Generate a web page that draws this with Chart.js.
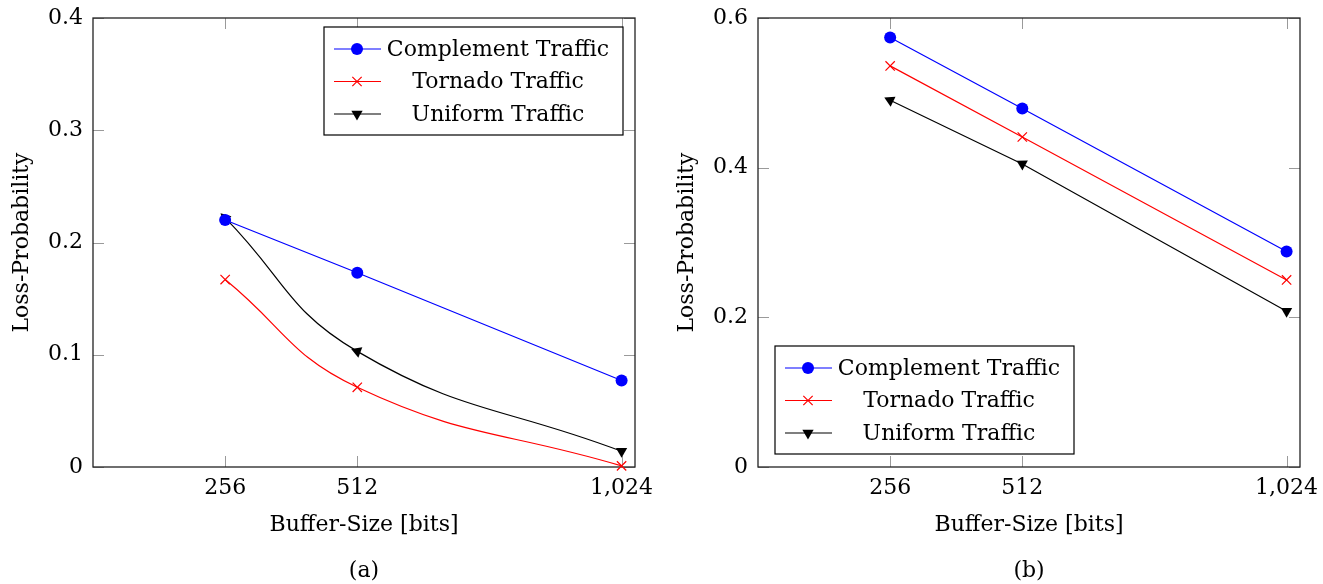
<!DOCTYPE html>
<html>
<head>
<meta charset="utf-8">
<script src="https://cdn.jsdelivr.net/npm/chart.js@4"></script>
<style>
  body { margin: 0; background: #fff; width: 1323px; height: 584px; position: relative; overflow: hidden; }
  .panel { position: absolute; top: 0; width: 658px; height: 584px; }
  .caption { position: absolute; top: 557px; width: 100px; text-align: center; font: 22px "DejaVu Serif"; line-height: 26px; color: #000; }
</style>
</head>
<body>
<div class="panel" style="left:0"><canvas id="chartA" width="658" height="584"></canvas></div>
<div class="panel" style="left:665px"><canvas id="chartB" width="658" height="584"></canvas></div>
<div class="caption" style="left:314px">(a)</div>
<div class="caption" style="left:979px">(b)</div>
<script>
// Data
var bufferSizes = [256, 512, 1024];
var xTickLabels = ['256', '512', '1,024'];

var complementA = [0.220, 0.173, 0.077];
var tornadoA    = [0.167, 0.071, 0.001];
var uniformA    = [0.222, 0.103, 0.014];
var yTicksA     = [0, 0.1, 0.2, 0.3, 0.4];

var complementB = [0.574, 0.479, 0.288];
var tornadoB    = [0.536, 0.441, 0.250];
var uniformB    = [0.490, 0.405, 0.208];
var yTicksB     = [0, 0.2, 0.4, 0.6];

var seriesNames = ['Complement Traffic', 'Tornado Traffic', 'Uniform Traffic'];

Chart.defaults.font.family = '"DejaVu Serif", serif';
Chart.defaults.font.size = 22;
Chart.defaults.color = '#000';

function toPoints(values) {
    return bufferSizes.map(function (b, i) { return {x: b, y: values[i]}; });
}

// triangle markers follow the line direction, last one points down
function triangleRotation(c) {
    if (c.type !== 'data') return 0;
    var data = c.dataset.data, i = c.dataIndex, ch = c.chart;
    if (i === data.length - 1) return 180;
    var dx = ch.scales.x.getPixelForValue(data[i].x) - ch.scales.x.getPixelForValue(data[i + 1].x);
    var dy = ch.scales.y.getPixelForValue(data[i].y) - ch.scales.y.getPixelForValue(data[i + 1].y);
    return Math.atan2(dx, -dy) * 180 / Math.PI;
}

function drawMarker(ctx, style, x, y, color, r, rot) {
    ctx.save();
    ctx.translate(x, y);
    ctx.rotate(rot * Math.PI / 180);
    ctx.fillStyle = color;
    ctx.strokeStyle = color;
    ctx.beginPath();
    if (style === 'circle') {
        ctx.arc(0, 0, r, 0, 2 * Math.PI);
        ctx.fill();
    } else if (style === 'crossRot') {
        var d = r * Math.SQRT1_2;
        ctx.lineWidth = 1.2;
        ctx.moveTo(-d, -d); ctx.lineTo(d, d);
        ctx.moveTo(-d, d); ctx.lineTo(d, -d);
        ctx.stroke();
    } else {
        for (var k = 0; k < 3; k++) {
            var a = k * 2 * Math.PI / 3;
            if (k === 0) ctx.moveTo(Math.sin(a) * r, -Math.cos(a) * r);
            else ctx.lineTo(Math.sin(a) * r, -Math.cos(a) * r);
        }
        ctx.closePath();
        ctx.fill();
    }
    ctx.restore();
}

// pgfplots-like frame with inside ticks on all four sides
var framePlugin = {
    id: 'frame',
    beforeDatasetsDraw: function (chart) {
        var ctx = chart.ctx, a = chart.chartArea, x = chart.scales.x, y = chart.scales.y;
        var len = 11;
        ctx.save();
        ctx.strokeStyle = '#9a9a9a';
        ctx.lineWidth = 1;
        ctx.beginPath();
        x.ticks.forEach(function (t) {
            var px = Math.round(x.getPixelForValue(t.value)) + 0.5;
            ctx.moveTo(px, a.bottom); ctx.lineTo(px, a.bottom - len);
            ctx.moveTo(px, a.top); ctx.lineTo(px, a.top + len);
        });
        y.ticks.forEach(function (t) {
            var py = Math.round(y.getPixelForValue(t.value)) + 0.5;
            ctx.moveTo(a.left, py); ctx.lineTo(a.left + len, py);
            ctx.moveTo(a.right, py); ctx.lineTo(a.right - len, py);
        });
        ctx.stroke();
        ctx.strokeStyle = '#222';
        ctx.lineWidth = 1.3;
        ctx.strokeRect(a.left, a.top, a.right - a.left, a.bottom - a.top);
        ctx.restore();
    }
};

// legend box drawn inside the plot area
var boxLegendPlugin = {
    id: 'boxLegend',
    afterDatasetsDraw: function (chart, args, opts) {
        var ctx = chart.ctx, a = chart.chartArea;
        var w = 299, h = 108;
        var left = opts.corner === 'topright' ? a.right - 12 - w : a.left + 17;
        var top = opts.corner === 'topright' ? a.top + 9 : a.bottom - 13 - h;
        ctx.save();
        ctx.fillStyle = '#fff';
        ctx.fillRect(left, top, w, h);
        ctx.strokeStyle = '#000';
        ctx.lineWidth = 1.2;
        ctx.strokeRect(left, top, w, h);
        ctx.font = '22px "DejaVu Serif"';
        ctx.textAlign = 'center';
        ctx.textBaseline = 'middle';
        chart.data.datasets.forEach(function (ds, i) {
            var ry = top + 22 + i * 32.5;
            ctx.strokeStyle = ds.borderColor;
            ctx.lineWidth = 1.2;
            ctx.beginPath();
            ctx.moveTo(left + 10, ry); ctx.lineTo(left + 57, ry);
            ctx.stroke();
            drawMarker(ctx, ds.pointStyle, left + 33, ry, ds.borderColor, ds.pointRadius,
                ds.pointStyle === 'triangle' ? 180 : 0);
            ctx.fillStyle = '#000';
            ctx.fillText(ds.label, left + 174, ry + 1);
        });
        ctx.restore();
    }
};

function makeDatasets(c, t, u, smooth) {
    return [
        {label: seriesNames[0], data: toPoints(c), borderColor: '#0000ff', backgroundColor: '#0000ff',
         pointStyle: 'circle', pointRadius: 6, pointBorderWidth: 0, borderWidth: 1.2, tension: 0},
        {label: seriesNames[1], data: toPoints(t), borderColor: '#ff0000', backgroundColor: '#ff0000',
         pointStyle: 'crossRot', pointRadius: 6.6, pointBorderWidth: 1.2, borderWidth: 1.2, tension: smooth ? 0.45 : 0},
        {label: seriesNames[2], data: toPoints(u), borderColor: '#000000', backgroundColor: '#000000',
         pointStyle: 'triangle', pointRadius: 6.5, pointBorderWidth: 0, borderWidth: 1.2, tension: smooth ? 0.45 : 0,
         rotation: triangleRotation}
    ];
}

function makeChart(id, datasets, yMax, yTicks, corner) {
    return new Chart(document.getElementById(id), {
        type: 'line',
        data: {datasets: datasets},
        options: {
            responsive: false,
            animation: false,
            clip: false,
            layout: {padding: {left: 0, top: 18, right: 23, bottom: 46}},
            plugins: {
                legend: {display: false},
                tooltip: {enabled: false},
                boxLegend: {corner: corner}
            },
            scales: {
                x: {
                    type: 'linear',
                    min: 0,
                    max: 1050,
                    afterBuildTicks: function (s) { s.ticks = bufferSizes.map(function (v) { return {value: v}; }); },
                    ticks: {
                        padding: 8, maxRotation: 0, autoSkip: false,
                        callback: function (v, i) { return xTickLabels[i]; }
                    },
                    grid: {display: false, drawTicks: false},
                    border: {display: false},
                    title: {display: true, text: 'Buffer-Size [bits]', padding: {top: 0, bottom: 0}},
                    afterFit: function (s) { s.height = 71; s.paddingLeft = 0; s.paddingRight = 0; }
                },
                y: {
                    min: 0,
                    max: yMax,
                    afterBuildTicks: function (s) { s.ticks = yTicks.map(function (v) { return {value: v}; }); },
                    ticks: {padding: 10, callback: function (v) { return String(v); }},
                    grid: {display: false, drawTicks: false},
                    border: {display: false},
                    title: {display: true, text: 'Loss-Probability', padding: {top: 9, bottom: 0}},
                    afterFit: function (s) { s.width = 93; s.paddingTop = 0; s.paddingBottom = 0; }
                }
            }
        },
        plugins: [framePlugin, boxLegendPlugin]
    });
}

makeChart('chartA', makeDatasets(complementA, tornadoA, uniformA, true), 0.4, yTicksA, 'topright');
makeChart('chartB', makeDatasets(complementB, tornadoB, uniformB, false), 0.6, yTicksB, 'bottomleft');
</script>
</body>
</html>
